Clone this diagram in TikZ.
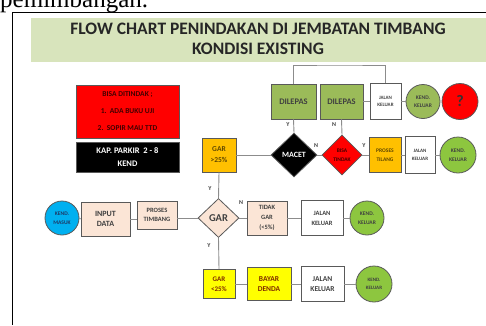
\documentclass[tikz,border=0pt]{standalone}
\usepackage{fontspec}
\setmainfont{Carlito}
\setsansfont{Carlito}
\newfontfamily\serifrm{Liberation Serif}
\usetikzlibrary{shapes.geometric,calc}
\definecolor{titlegreen}{HTML}{D8E4BC}
\definecolor{dilgreen}{HTML}{9BBB59}
\definecolor{kendgreen}{HTML}{8DC63F}
\definecolor{orangebox}{HTML}{FFC000}
\definecolor{peach}{HTML}{FBE5D6}
\definecolor{bluecirc}{HTML}{00B0F0}
\definecolor{redfill}{HTML}{FF0000}
\definecolor{yellowbox}{HTML}{FFFF00}
\definecolor{darktxt}{HTML}{404040}
\definecolor{maroon}{HTML}{420000}
\definecolor{browntxt}{HTML}{604800}
\definecolor{rusttxt}{HTML}{7F2A00}
\definecolor{navytxt}{HTML}{1F3864}
\definecolor{edge}{HTML}{595959}
\definecolor{linegray}{HTML}{8C8C8C}
\begin{document}
\begin{tikzpicture}[x=1pt,y=-1pt,
  every node/.style={font=\bfseries, align=center, inner sep=0pt},
  base/.style={draw=edge, line width=0.8pt, rectangle},
  peachbox/.style={base, fill=peach, text=darktxt, font=\bfseries\fontsize{8}{10.5}\selectfont},
  orbox/.style={base, fill=orangebox, text=browntxt, font=\bfseries\fontsize{7.5}{11}\selectfont},
  yelbox/.style={base, fill=yellowbox, text=rusttxt, font=\bfseries\fontsize{7.5}{10.5}\selectfont},
  whitebox/.style={base, fill=white, text=darktxt, font=\bfseries\fontsize{7.5}{10.5}\selectfont},
  tinybox/.style={base, fill=white, text=darktxt, font=\bfseries\fontsize{5}{7.5}\selectfont},
  dilbox/.style={base, fill=dilgreen, text=darktxt, font=\bfseries\fontsize{8.5}{10}\selectfont},
  kendcirc/.style={circle, draw=edge, line width=0.8pt, fill=kendgreen, text=darktxt, font=\bfseries\fontsize{5.5}{8.5}\selectfont},
  decision/.style={diamond, draw=edge, line width=0.8pt, shape aspect=1},
  yn/.style={font=\bfseries\fontsize{6}{6}\selectfont, text=darktxt},
  conn/.style={draw=linegray, line width=0.9pt}
]
\path[use as bounding box] (0,0) rectangle (486,325);
% cropped caption text above the frame
\begin{scope}
\clip (0,0) rectangle (486,12);
\node[anchor=base west, font=\serifrm\fontsize{25}{25}\selectfont] (cap) at (0,7) {pemimbangan.};
\end{scope}
% frame
\draw[line width=1.6pt] (486,12.5) -- (12.5,12.5) -- (12.5,325);
% title banner
\fill[titlegreen] (31,18) rectangle (486,62);
\node[font=\bfseries\fontsize{17.5}{20}\selectfont, text=black!85] (title) at (258,39) {FLOW CHART PENINDAKAN DI JEMBATAN TIMBANG\\KONDISI EXISTING};

% left info boxes
\node[base, fill=redfill, text=maroon, minimum width=103pt, minimum height=53pt, font=\bfseries\fontsize{7.5}{17}\selectfont] (redinfo) at (127.5,111.5) {BISA DITINDAK ;\\1.\ \ ADA BUKU UJI\\2.\ \ SOPIR MAU TTD};
\node[base, fill=black, text=white, minimum width=103pt, minimum height=30pt, font=\bfseries\fontsize{8.5}{13}\selectfont] (blackinfo) at (127.5,157) {KAP. PARKIR\ \ 2 - 8\\KEND};

% top row
\node[dilbox, minimum width=45pt, minimum height=35pt] (dil1) at (293.5,101.5) {DILEPAS};
\node[dilbox, minimum width=43pt, minimum height=35pt] (dil2) at (341.5,101.5) {DILEPAS};
\node[tinybox, minimum width=31pt, minimum height=36pt] (jk0) at (385.5,101.5) {JALAN\\KELUAR};
\node[kendcirc, fill=dilgreen, minimum size=34pt] (kk0) at (423,101.5) {KEND.\\KELUAR};
\node[circle, draw=edge, line width=0.8pt, fill=redfill, minimum size=36pt, text=black!80, font=\bfseries\fontsize{16}{16}\selectfont] (q) at (460,101.5) {?};

% middle row
\node[orbox, minimum width=34pt, minimum height=34pt] (gar25) at (219,155) {GAR\\>25\%};
\node[decision, fill=black, text=white, minimum width=46pt, minimum height=44pt, font=\bfseries\fontsize{8}{9}\selectfont] (macet) at (294,155) {MACET};
\node[decision, fill=redfill, text=maroon, minimum width=40pt, minimum height=40pt, font=\bfseries\fontsize{5.5}{8.5}\selectfont] (bisa) at (342,155) {BISA\\TINDAK};
\node[orbox, minimum width=32pt, minimum height=35pt, font=\bfseries\fontsize{5.5}{9}\selectfont] (tilang) at (385,155) {PROSES\\TILANG};
\node[tinybox, minimum width=30pt, minimum height=37pt] (jk1) at (420,155) {JALAN\\KELUAR};
\node[kendcirc, minimum size=36pt] (kk1) at (458,155) {KEND.\\KELUAR};

% lower row
\node[circle, draw=edge, line width=0.8pt, fill=bluecirc, text=navytxt, minimum size=34pt, font=\bfseries\fontsize{5.5}{8.5}\selectfont] (masuk) at (62,218) {KEND.\\MASUK};
\node[peachbox, minimum width=49pt, minimum height=34pt] (input) at (105.5,219) {INPUT\\DATA};
\node[peachbox, minimum width=40pt, minimum height=28pt, font=\bfseries\fontsize{6.5}{9}\selectfont] (timbang) at (157,215) {PROSES\\TIMBANG};
\node[decision, fill=peach, text=darktxt, minimum width=41pt, minimum height=39pt, font=\bfseries\fontsize{10.5}{11}\selectfont] (gar) at (218.5,218) {GAR};
\node[peachbox, minimum width=40pt, minimum height=34pt, font=\bfseries\fontsize{6.5}{10}\selectfont] (tidak) at (267,218) {TIDAK\\GAR\\(<5\%)};
\node[whitebox, minimum width=42pt, minimum height=35pt, font=\bfseries\fontsize{6.5}{10}\selectfont] (jk2) at (322,218) {JALAN\\KELUAR};
\node[kendcirc, minimum size=34pt] (kk2) at (367,218) {KEND.\\KELUAR};

% bottom row
\node[yelbox, minimum width=32pt, minimum height=29pt, font=\bfseries\fontsize{7}{10}\selectfont] (gar5) at (219,284) {GAR\\<25\%};
\node[yelbox, minimum width=44pt, minimum height=33pt] (denda) at (269,284) {BAYAR\\DENDA};
\node[whitebox, minimum width=43pt, minimum height=35pt] (jk3) at (322.5,284) {JALAN\\KELUAR};
\node[kendcirc, minimum size=36pt, font=\bfseries\fontsize{5}{8.5}\selectfont] (kk3) at (374,284) {KEND.\\KELUAR};

% connectors
\coordinate (looptop) at (340,65);
\draw[conn] (dil1.north) |- (looptop) -| (jk0.north);
\draw[conn] (dil1.south) -- (macet.north);
\draw[conn] (dil2.south) -- (bisa.north);
\draw[conn] (dil2.east) -- (jk0.west);
\draw[conn] (jk0.east) -- (kk0.west);

\draw[conn] (gar25.east) -- (macet.west);
\draw[conn] (macet.east) -- (bisa.west);
\draw[conn] (bisa.east) -- (tilang.west);
\draw[conn] (tilang.east) -- (jk1.west);
\draw[conn] (jk1.east) -- (kk1.west);

\draw[conn] (gar25.south) -- (gar.north);
\draw[conn] (gar.south) -- (gar5.north);

\draw[conn] (masuk.east) -- (input.west);
\draw[conn] (input.east) -- (input.east -| timbang.west);
\draw[conn] (timbang.east |- gar.west) -- (gar.west);
\draw[conn] (gar.east) -- (tidak.west);
\draw[conn] (tidak.east) -- (jk2.west);
\draw[conn] (jk2.east) -- (kk2.west);

\draw[conn] (gar5.east) -- (denda.west);
\draw[conn] (denda.east) -- (jk3.west);
\draw[conn] (jk3.east) -- (kk3.west);

% Y / N labels
\node[yn] (ly1) at (288,125) {Y};
\node[yn] (ln1) at (334,125) {N};
\node[yn] (ln2) at (316,146) {N};
\node[yn] (ly2) at (364,146) {Y};
\node[yn] (ly3) at (210,189) {Y};
\node[yn] (ly4) at (209,246) {Y};
\node[yn] (ln3) at (241,203) {N};
\end{tikzpicture}
\end{document}
